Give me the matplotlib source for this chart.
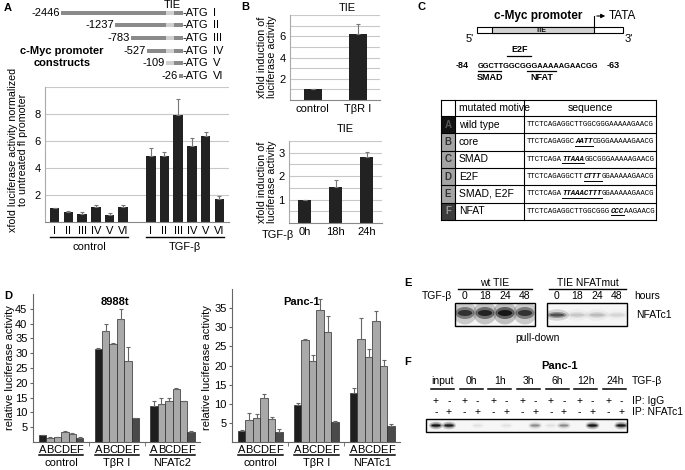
import numpy as np
import matplotlib
matplotlib.use('Agg')
import matplotlib.pyplot as plt
from matplotlib.patches import Rectangle, Ellipse
from matplotlib.transforms import blended_transform_factory

plt.rcParams['font.family'] = ['Liberation Sans', 'DejaVu Sans']
plt.rcParams['font.size'] = 7.5

W, H = 685, 470

# A: deletion constructs of the c-Myc promoter
constructs = ['I', 'II', 'III', 'IV', 'V', 'VI']
construct_ends = ['-2446', '-1237', '-783', '-527', '-109', '-26']
a_control = [1.05, 0.75, 0.6, 1.1, 0.55, 1.1]
a_control_err = [0.0, 0.07, 0.12, 0.15, 0.08, 0.18]
a_tgfb = [4.9, 4.9, 7.9, 5.6, 6.4, 1.7]
a_tgfb_err = [0.6, 0.3, 1.2, 0.65, 0.3, 0.25]

# B: TIE reporter
b_top_labels = ['control', 'TβR I']
b_top = [1.0, 6.25]
b_top_err = [0.0, 0.9]
b_bot_labels = ['0h', '18h', '24h']
b_bot = [1.0, 1.55, 2.8]
b_bot_err = [0.0, 0.3, 0.25]

# C: mutated TIE motifs
mut_ids = ['A', 'B', 'C', 'D', 'E', 'F']
mut_motives = ['wild type', 'core', 'SMAD', 'E2F', 'SMAD, E2F', 'NFAT']
mut_pre = ['TTCTCAGAGGCTTGGCGGGAAAAAGAACG', 'TTCTCAGAGGC', 'TTCTCAGA',
           'TTCTCAGAGGCTT', 'TTCTCAGA', 'TTCTCAGAGGCTTGGCGGG']
mut_site = ['', 'AATT', 'TTAAA', 'CTTT', 'TTAAACTTT', 'CCC']
mut_post = ['', 'CGGGAAAAAGAACG', 'GGCGGGAAAAAGAACG', 'GGAAAAAGAACG',
            'GGAAAAAGAACG', 'AAGAACG']

# D: mutant reporters in 8988t and Panc-1
d_letters = ['A', 'B', 'C', 'D', 'E', 'F']
d1_groups = ['control', 'TβR I', 'NFATc2']
d1_vals = [[2.2, 1.5, 1.7, 3.4, 2.7, 1.5],
           [31.5, 37.5, 33.0, 41.5, 27.5, 8.0],
           [12.0, 12.7, 13.7, 17.8, 13.7, 3.3]]
d1_err = [[0.2, 0.1, 0.15, 0.3, 0.2, 0.1],
          [0.3, 2.5, 0.5, 3.3, 4.7, 0.2],
          [1.8, 2.3, 1.2, 0.4, 0.3, 0.4]]
d2_groups = ['control', 'TβR I', 'NFATc1']
d2_vals = [[2.9, 5.7, 6.3, 11.5, 6.1, 2.7],
           [9.7, 26.7, 21.2, 34.5, 28.7, 5.2],
           [12.7, 27.0, 22.3, 31.6, 19.9, 4.3]]
d2_err = [[0.2, 1.9, 0.9, 1.1, 0.5, 0.7],
          [0.4, 0.2, 1.5, 2.9, 4.2, 0.2],
          [1.5, 5.5, 2.1, 2.6, 1.6, 0.3]]

# E: DNA pull-down, band strength 0..1
e_times = ['0', '18', '24', '48']
e_wt = [0.7, 0.8, 0.9, 0.7]
e_mut = [0.55, 0.12, 0.15, 0.08]

# F: ChIP, band strength 0..1
f_times = ['input', '0h', '1h', '3h', '6h', '12h', '24h']
f_igg = [0.9, 0.0, 0.0, 0.0, 0.05, 0.0, 0.0]
f_nfat = [0.85, 0.05, 0.05, 0.3, 0.3, 0.9, 0.9]

fig = plt.figure(figsize=(6.85, 4.70), dpi=100)


def px_axes(x0, y0, x1, y1):
    return fig.add_axes([x0 / W, 1 - y1 / H, (x1 - x0) / W, (y1 - y0) / H])


ov = fig.add_axes([0, 0, 1, 1])
ov.set_xlim(0, W)
ov.set_ylim(H, 0)
ov.axis('off')
ov.set_zorder(10)
ov.patch.set_alpha(0)


def mix(ax):
    # x in data units of ax, y in figure pixels
    return blended_transform_factory(ax.transData, ov.transData)


def label(x, y, s, **kw):
    kw.setdefault('ha', 'center')
    kw.setdefault('va', 'center')
    ov.text(x, y, s, **kw)


def band(x, y, w, h, level, clip):
    for sw, sh, a in [(1.25, 1.9, 0.25), (1.0, 1.0, 0.55), (0.75, 0.5, 0.85)]:
        e = Ellipse((x, y), w * sw, h * sh, facecolor='k', alpha=level * a,
                    edgecolor='none')
        ov.add_patch(e)
        e.set_clip_path(clip)


def up_err(ax, x, v, e, color='#666'):
    ax.errorbar(x, v, yerr=[np.zeros(len(v)), e], fmt='none', ecolor=color,
                elinewidth=0.8, capsize=1.5, capthick=0.8)


def excel_axes(ax):
    for s in ['top', 'right']:
        ax.spines[s].set_visible(False)
    ax.spines['left'].set_color('#aaaaaa')
    ax.spines['bottom'].set_color('#888888')
    ax.tick_params(length=0, labelsize=8, pad=3)
    ax.grid(axis='y', color='#c8c8c8', lw=0.8)
    ax.set_axisbelow(True)


# ---------------- A
label(8, 8, 'A', fontweight='bold', fontsize=8)
label(172, 5, 'TIE', fontsize=8)
rows_y = [13, 25, 38, 51, 63, 76]
construct_x0 = [61, 115, 131, 147, 166, 179]
for i in range(6):
    x0, y = construct_x0[i], rows_y[i]
    label(x0 - 1, y, construct_ends[i], ha='right', fontsize=8)
    if x0 < 166:
        ov.add_patch(Rectangle((x0, y - 2), 166 - x0, 4, color='#8a8a8a', lw=0))
    if x0 < 174:
        ov.add_patch(Rectangle((max(x0, 166), y - 2), 174 - max(x0, 166), 4,
                               color='#cfcfcf', lw=0))
    ov.add_patch(Rectangle((max(x0, 174), y - 2), 183 - max(x0, 174), 4,
                           color='#8a8a8a', lw=0))
    label(183, y, '-ATG', ha='left', fontsize=8)
    label(213, y, constructs[i], ha='left', fontsize=8)
label(62, 57, 'c-Myc promoter\nconstructs', fontweight='bold', fontsize=8,
      linespacing=1.15)

axA = px_axes(45, 87, 229, 222)
xa_c = np.arange(6)
xa_t = np.arange(6) + 7
axA.bar(xa_c, a_control, 0.7, color='#222222')
axA.bar(xa_t, a_tgfb, 0.7, color='#222222')
up_err(axA, xa_c, a_control, a_control_err, '#777777')
up_err(axA, xa_t, a_tgfb, a_tgfb_err, '#777777')
axA.set_xlim(-0.7, 12.7)
axA.set_ylim(0, 10)
axA.set_yticks([2, 4, 6, 8, 10])
axA.set_yticklabels(['2', '4', '6', '8', ''])
axA.set_xticks(list(xa_c) + list(xa_t))
axA.set_xticklabels(constructs * 2)
excel_axes(axA)
for xs, name in [(xa_c, 'control'), (xa_t, 'TGF-β')]:
    ov.plot([xs[0] - 0.35, xs[-1] + 0.35], [237, 237], color='k', lw=1,
            transform=mix(axA), clip_on=False)
    ov.text(xs.mean(), 247, name, transform=mix(axA), ha='center',
            va='center', fontsize=8)
label(18, 150, 'xfold luciferase activity normalized\nto untreated fl promoter',
      rotation=90, fontsize=7.7, linespacing=1.0)

# ---------------- B
label(245, 7, 'B', fontweight='bold', fontsize=8)
axB1 = px_axes(290, 15, 380, 100)
axB1.bar([0, 1], b_top, 0.4, color='#222222')
up_err(axB1, np.arange(2), b_top, b_top_err, '#777777')
axB1.set_xlim(-0.5, 1.5)
axB1.set_ylim(0, 8)
axB1.set_yticks(range(1, 9))
axB1.set_yticklabels(['', '2', '', '4', '', '6', '', ''])
axB1.set_xticks([0, 1])
axB1.set_xticklabels(b_top_labels)
excel_axes(axB1)
label(347, 8, 'TIE', fontsize=8)
label(267, 57, 'xfold induction of\nluciferase activity', rotation=90,
      fontsize=7.7, linespacing=1.0)

axB2 = px_axes(289, 141, 382, 223)
axB2.bar([0, 1, 2], b_bot, 0.42, color='#222222')
up_err(axB2, np.arange(3), b_bot, b_bot_err, '#777777')
axB2.set_xlim(-0.5, 2.5)
axB2.set_ylim(0, 3.5)
axB2.set_yticks(np.arange(0.5, 3.6, 0.5))
axB2.set_yticklabels(['', '1', '', '2', '', '3', ''])
axB2.set_xticks([0, 1, 2])
axB2.set_xticklabels(b_bot_labels)
excel_axes(axB2)
label(345, 129, 'TIE', fontsize=8)
label(294, 235, 'TGF-β', ha='right', fontsize=8)
label(267, 182, 'xfold induction of\nluciferase activity', rotation=90,
      fontsize=7.7, linespacing=1.0)

# ---------------- C
label(422, 7, 'C', fontweight='bold', fontsize=8)
label(538, 16, 'c-Myc promoter', fontweight='bold', fontsize=8.5)
ov.add_patch(Rectangle((477, 27), 146, 6, facecolor='white', edgecolor='k', lw=0.8))
ov.add_patch(Rectangle((492, 27), 102, 6, facecolor='#d2d2d2', edgecolor='k', lw=0.8))
label(541, 30, 'TIE', fontsize=5, fontweight='bold')
ov.plot([594, 594], [27, 16], color='k', lw=0.8)
ov.annotate('', xy=(608, 16), xytext=(594, 16),
            arrowprops=dict(arrowstyle='-|>', lw=0.8, color='k', mutation_scale=6))
label(609, 16, 'TATA', ha='left', fontsize=8.5)
label(470, 39, "5'", fontsize=8)
label(629, 39, "3'", fontsize=8)
label(520, 50, 'E2F', fontweight='bold', fontsize=6.5)
ov.plot([507, 531], [56, 56], color='k', lw=0.9)
label(462, 66, '-84', fontweight='bold', fontsize=6.5)
label(478, 66, 'GGCTTGGCGGGAAAAAGAACGG', ha='left', fontweight='bold', fontsize=5.4)
label(613, 66, '-63', fontweight='bold', fontsize=6.5)
ov.plot([478, 501], [71, 71], color='k', lw=0.9)
ov.plot([527, 556], [71, 71], color='k', lw=0.9)
label(490, 77, 'SMAD', fontweight='bold', fontsize=6.5)
label(542, 77, 'NFAT', fontweight='bold', fontsize=6.5)

col_x = [441, 455, 524, 656]
tab_top, head_h, row_h = 100, 16, 17.3
tab_bot = tab_top + head_h + row_h * 6
id_fill = ['#111111', '#a4a4a4', '#a4a4a4', '#a4a4a4', '#a4a4a4', '#3c3c3c']
id_text = ['#555555', '#333333', '#333333', '#333333', '#333333', '#999999']
label(459, tab_top + head_h / 2, 'mutated motive', ha='left', fontsize=7.5)
label(590, tab_top + head_h / 2, 'sequence', fontsize=7.5)
char_w = 4.4
mono = ['Liberation Mono', 'DejaVu Sans Mono']
for i in range(6):
    y0 = tab_top + head_h + row_h * i
    yc = y0 + row_h / 2
    ov.add_patch(Rectangle((col_x[0], y0), col_x[1] - col_x[0], row_h,
                           facecolor=id_fill[i], edgecolor='none'))
    label((col_x[0] + col_x[1]) / 2, yc, mut_ids[i], fontsize=7,
          fontweight='bold', color=id_text[i])
    label(459, yc, mut_motives[i], ha='left', fontsize=7.5)
    xs = 527
    label(xs, yc, mut_pre[i], ha='left', family=mono, fontsize=5.3)
    xm = xs + char_w * len(mut_pre[i])
    if mut_site[i]:
        label(xm, yc, mut_site[i], ha='left', family=mono, fontsize=5.3,
              fontweight='bold', style='italic')
        ov.plot([xm, xm + char_w * len(mut_site[i])], [yc + 4, yc + 4],
                color='k', lw=0.7)
        label(xm + char_w * len(mut_site[i]), yc, mut_post[i], ha='left',
              family=mono, fontsize=5.3)
for x in col_x:
    ov.plot([x, x], [tab_top, tab_bot], color='k', lw=0.8)
for k in range(8):
    y = tab_top if k == 0 else tab_top + head_h + row_h * (k - 1)
    ov.plot([col_x[0], col_x[-1]], [y, y], color='k', lw=0.8)

# ---------------- D
label(8, 296, 'D', fontweight='bold', fontsize=8)
d_colors = ['#1e1e1e', '#a9a9a9', '#a9a9a9', '#a9a9a9', '#a9a9a9', '#4a4a4a']
offsets = [0, 7.5, 15]


def d_chart(rect, ymax, ticks, groups, vals, errs):
    ax = px_axes(*rect)
    allx = []
    for g, off in enumerate(offsets):
        x = off + np.arange(6)
        allx += list(x)
        ax.bar(x, vals[g], 1.0, color=d_colors, edgecolor='#2a2a2a', linewidth=0.5)
        up_err(ax, x, vals[g], errs[g])
        ov.plot([x[0] - 0.5, x[-1] + 0.5], [455, 455], color='k', lw=1.1,
                transform=mix(ax), clip_on=False)
        ov.text(x.mean(), 463, groups[g], transform=mix(ax), ha='center',
                va='center', fontsize=8)
    ax.set_xlim(-1.3, 21.2)
    ax.set_ylim(0, ymax)
    ax.set_yticks(ticks)
    ax.set_xticks(allx)
    ax.set_xticklabels(d_letters * 3)
    ax.set_xticks([6.25, 13.75], minor=True)
    for s in ['top', 'right']:
        ax.spines[s].set_visible(False)
    ax.spines['left'].set_color('#666666')
    ax.spines['bottom'].set_color('#666666')
    ax.tick_params(axis='y', length=2, labelsize=8, pad=2, color='#666666')
    ax.tick_params(axis='x', which='major', length=0, labelsize=8, pad=2)
    ax.tick_params(axis='x', which='minor', length=3, color='#666666')
    return ax


axD1 = d_chart((33, 294, 200, 442), 50, range(5, 50, 5), d1_groups, d1_vals, d1_err)
axD2 = d_chart((232, 289, 400, 442), 40, range(5, 40, 5), d2_groups, d2_vals, d2_err)
label(115, 302, '8988t', fontweight='bold', fontsize=8)
label(302, 302, 'Panc-1', fontweight='bold', fontsize=8)
label(10, 368, 'relative luciferase activity', rotation=90, fontsize=8)
label(207, 368, 'relative luciferase activity', rotation=90, fontsize=8)

# ---------------- E
label(408, 283, 'E', fontweight='bold', fontsize=8)
label(495, 283, 'wt TIE', fontsize=7.5)
label(588, 283, 'TIE NFATmut', fontsize=7.5)
ov.plot([458, 532], [289, 289], color='k', lw=1)
ov.plot([549, 626], [289, 289], color='k', lw=1)
label(437, 296, 'TGF-β', fontsize=7.5)
label(634, 296, 'hours', ha='left', fontsize=7.5)
label(636, 315, 'NFATc1', ha='left', fontsize=7.5)
label(537, 338, 'pull-down', fontsize=7.5)
for bx, levels in [(455, e_wt), (547, e_mut)]:
    box = Rectangle((bx, 303), 80, 23, facecolor='#f6f6f6', edgecolor='k', lw=1)
    ov.add_patch(box)
    for j, lev in enumerate(levels):
        xc = bx + 10 + 20 * j
        label(xc, 296, e_times[j], fontsize=7.5)
        h = 12 if bx == 455 else 6
        yc = 313 if bx == 455 else 315
        band(xc, yc, 19, h, lev, box)

# ---------------- F
label(408, 362, 'F', fontweight='bold', fontsize=8)
label(560, 366, 'Panc-1', fontweight='bold', fontsize=8)
fbox = Rectangle((426, 419), 201, 13, facecolor='#f6f6f6', edgecolor='k', lw=1)
ov.add_patch(fbox)
for k in range(7):
    xp = 436 + 28.7 * k
    xm = xp + 13
    label((xp + xm) / 2, 381, f_times[k], fontsize=7.5)
    ov.plot([xp - 5, xm + 5], [389, 389], color='k', lw=1.1)
    label(xp, 401, '+', fontsize=7.5)
    label(xm, 401, '-', fontsize=7.5)
    label(xp, 412, '-', fontsize=7.5)
    label(xm, 412, '+', fontsize=7.5)
    band(xp, 425.5, 11, 4, f_igg[k], fbox)
    band(xm, 425.5, 11, 4, f_nfat[k], fbox)
label(632, 381, 'TGF-β', ha='left', fontsize=7.5)
label(632, 401, 'IP: IgG', ha='left', fontsize=7.5)
label(632, 412, 'IP: NFATc1', ha='left', fontsize=7.5)

fig.savefig('out.png', dpi=100)
